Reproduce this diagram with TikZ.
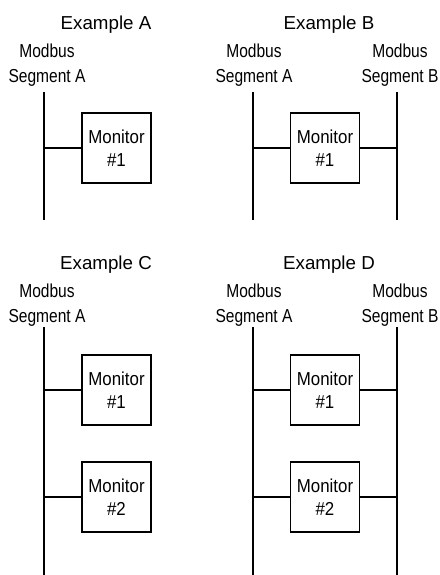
\documentclass[tikz,border=0pt]{standalone}
\usepackage{fontspec}
\setmainfont{Liberation Sans}
\newfontfamily\segfont{Liberation Sans}[FakeStretch=0.83]
\newfontfamily\monfont{Liberation Sans}[FakeStretch=0.9]
\usetikzlibrary{positioning}

\begin{document}
\begin{tikzpicture}[x=0.03cm, y=-0.03cm, line width=1.6pt,
    title/.style={anchor=north, inner sep=0pt, font=\fontsize{16}{19}\selectfont},
    seglabel/.style={anchor=north, inner sep=0pt, align=center, font=\segfont\fontsize{16}{21.3}\selectfont},
    monitor/.style={draw, inner sep=0pt, minimum width=2.07cm, minimum height=2.1cm, align=center, font=\monfont\fontsize{16}{19.6}\selectfont}]
    \useasboundingbox (0, 0) rectangle (440, 575);
    % Example A
    \node[title] (titleA) at (106, 15) {Example A};
    \node[seglabel] (segA1) at (47, 43) {Modbus\\Segment A};
    \coordinate (busA1top) at (44, 92);
    \coordinate (busA1bot) at (44, 220);
    \node[monitor] (monA1) at (116.5, 148) {Monitor\\\#1};
    \draw (busA1top) -- (busA1bot);
    \draw (monA1.west) -- (monA1.west -| busA1top);
    % Example B
    \node[title] (titleB) at (329, 15) {Example B};
    \node[seglabel] (segB1) at (254, 43) {Modbus\\Segment A};
    \node[seglabel] (segB2) at (400, 43) {Modbus\\Segment B};
    \coordinate (busB1top) at (253, 92);
    \coordinate (busB1bot) at (253, 220);
    \coordinate (busB2top) at (397, 92);
    \coordinate (busB2bot) at (397, 220);
    \node[monitor] (monB1) at (325, 148) {Monitor\\\#1};
    \draw (busB1top) -- (busB1bot)
          (busB2top) -- (busB2bot);
    \draw (monB1.west) -- (monB1.west -| busB1top)
          (monB1.east) -- (monB1.east -| busB2top);
    % Example C
    \node[title] (titleC) at (106, 255) {Example C};
    \node[seglabel] (segC1) at (47, 283) {Modbus\\Segment A};
    \coordinate (busC1top) at (44, 327);
    \coordinate (busC1bot) at (44, 575);
    \node[monitor] (monC1) at (116.5, 390) {Monitor\\\#1};
    \node[monitor] (monC2) at (116.5, 497) {Monitor\\\#2};
    \draw (busC1top) -- (busC1bot);
    \draw (monC1.west) -- (monC1.west -| busC1top)
          (monC2.west) -- (monC2.west -| busC1top);
    % Example D
    \node[title] (titleD) at (329, 255) {Example D};
    \node[seglabel] (segD1) at (254, 283) {Modbus\\Segment A};
    \node[seglabel] (segD2) at (400, 283) {Modbus\\Segment B};
    \coordinate (busD1top) at (253, 327);
    \coordinate (busD1bot) at (253, 575);
    \coordinate (busD2top) at (397, 327);
    \coordinate (busD2bot) at (397, 575);
    \node[monitor] (monD1) at (325, 390) {Monitor\\\#1};
    \node[monitor] (monD2) at (325, 497) {Monitor\\\#2};
    \draw (busD1top) -- (busD1bot)
          (busD2top) -- (busD2bot);
    \draw (monD1.west) -- (monD1.west -| busD1top)
          (monD1.east) -- (monD1.east -| busD2top)
          (monD2.west) -- (monD2.west -| busD1top)
          (monD2.east) -- (monD2.east -| busD2top);
\end{tikzpicture}
\end{document}
